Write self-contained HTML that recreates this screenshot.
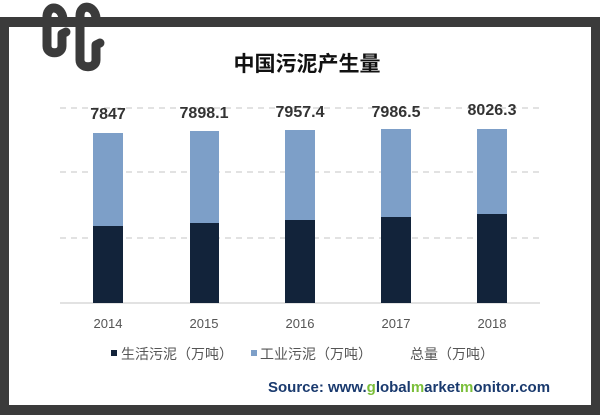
<!DOCTYPE html>
<html><head><meta charset="utf-8"><style>
body{margin:0;width:600px;height:415px;background:#fff;overflow:hidden;font-family:"Liberation Sans","Noto Sans CJK SC",sans-serif}
</style></head><body>
<svg width="600" height="415" viewBox="0 0 600 415" xmlns="http://www.w3.org/2000/svg" style="position:absolute;left:0;top:0">
<rect x="0" y="17" width="600" height="398" fill="#3b3b3b"/>
<rect x="9" y="27" width="582" height="378" fill="#fff"/>
<g fill="none" stroke="#3b3b3b" stroke-width="9" stroke-linecap="round" stroke-linejoin="round">
<path d="M63 19 C62 6 48 4 47 16 L47 46 C47 55 62 55 62 46 L62 34 L66 32"/>
<path d="M96 18 C95 5 80 3 80 16 L80 60 C80 69 96 69 96 60 L96 45 L100 43"/>
</g>
<g stroke="#d0d0d0" stroke-width="1.2" stroke-dasharray="6,5">
<line x1="60" y1="108" x2="540" y2="108"/>
<line x1="60" y1="172" x2="540" y2="172"/>
<line x1="60" y1="238" x2="540" y2="238"/>
</g>
<line x1="60" y1="303" x2="540" y2="303" stroke="#d0d0d0" stroke-width="1.2"/>
<g fill="#7d9fc8">
<rect x="93" y="133" width="30" height="93"/>
<rect x="190" y="131" width="29" height="92"/>
<rect x="285" y="130" width="30" height="90"/>
<rect x="381" y="129" width="30" height="88"/>
<rect x="477" y="129" width="30" height="85"/>
</g>
<g fill="#12233a">
<rect x="93" y="226" width="30" height="77"/>
<rect x="190" y="223" width="29" height="80"/>
<rect x="285" y="220" width="30" height="83"/>
<rect x="381" y="217" width="30" height="86"/>
<rect x="477" y="214" width="30" height="89"/>
</g>
<text x="307" y="71" font-size="21" font-weight="bold" text-anchor="middle" fill="#111" font-family="Liberation Sans,Noto Sans CJK SC,sans-serif">中国污泥产生量</text>
<g font-size="16" font-weight="bold" fill="#333" text-anchor="middle">
<text x="108" y="119">7847</text>
<text x="204" y="118">7898.1</text>
<text x="300" y="117">7957.4</text>
<text x="396" y="117">7986.5</text>
<text x="492" y="115">8026.3</text>
</g>
<g font-size="13" fill="#555" text-anchor="middle">
<text x="108" y="328">2014</text>
<text x="204" y="328">2015</text>
<text x="300" y="328">2016</text>
<text x="396" y="328">2017</text>
<text x="492" y="328">2018</text>
</g>
<rect x="111" y="350" width="6" height="6" fill="#12233a"/>
<rect x="251" y="350" width="6" height="6" fill="#7d9fc8"/>
<g font-size="14" fill="#555" font-family="Liberation Sans,Noto Sans CJK SC,sans-serif">
<text x="121" y="359">生活污泥（万吨）</text>
<text x="260" y="359">工业污泥（万吨）</text>
<text x="410" y="359">总量（万吨）</text>
</g>
<text x="268" y="392" font-size="15" font-weight="bold" fill="#1a3a6e">Source: www.<tspan fill="#7bbf3a">g</tspan>lobal<tspan fill="#7bbf3a">m</tspan>arket<tspan fill="#7bbf3a">m</tspan>onitor.com</text>
</svg>
</body></html>
